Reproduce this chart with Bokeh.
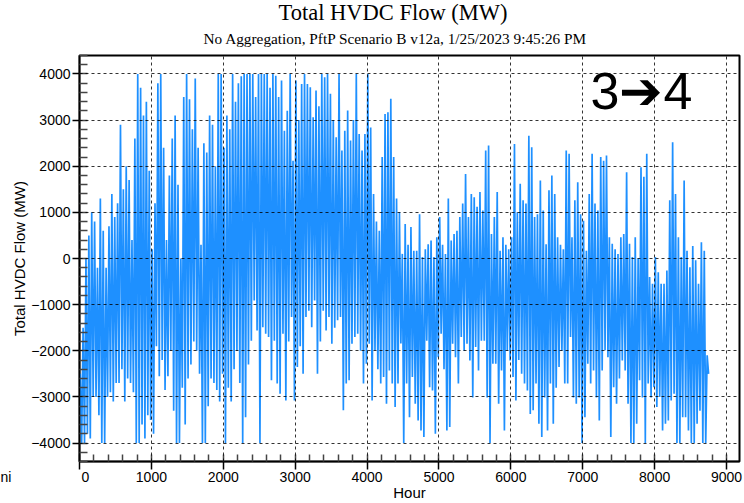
from bokeh.plotting import figure
from bokeh.models import Range1d, SingleIntervalTicker, Label, Title
from bokeh.embed import file_html
from bokeh.resources import INLINE

TITLE = "Total HVDC Flow (MW)"
SUBTITLE = "No Aggregation, PftP Scenario B v12a, 1/25/2023 9:45:26 PM"
X_LABEL = "Hour"
Y_LABEL = "Total HVDC Flow (MW)"
CORNER_TAG = "3\u27944"
STRAY_TEXT = "ni"

BIN_HOURS = 40
bin_start_hour = list(range(0, 8760, BIN_HOURS))

hi_mw = [
    -2500, -1500, 0, 500, 1000, 800, -200, 1300, 600, -200,
    700, 1400, 900, 1200, 2900, 1500, 2000, 1700, 400, 2600,
    4000, 3700, 3100, 3400, 1900, 200, 1200, 3800, 4000, 2400,
    400, 1800, 2600, 3100, 1600, 0, 3500, 4000, 3450, 2800,
    3900, 2400, 300, 2500, 2300, 3100, 2900, 2000, 4000, 4000,
    2400, 3100, 2800, 4000, 3400, 3800, 3950, 4000, 4000, 4000,
    4000, 3500, 4000, 4000, 4000, 4000, 3700, 4000, 3960, 3500,
    3860, 2770, 3200, 4000, 2120, 3860, 3000, 3780, 4000, 3780,
    3710, 3060, 3640, 3300, 4000, 3930, 4000, 3570, 3000, 2630,
    4000, 2340, 2770, 3210, 2560, 3000, 4000, 2700, 2340, 2700,
    4000, 2840, 1400, 800, 600, 2200, 3130, 3170, 3460, 2200,
    1300, 1000, 100, 750, 300, 680, 170, 170, 960, 30,
    200, 310, 390, 30, 460, 900, 300, 100, 1300, 390,
    530, 600, 900, 1190, 1830, 900, 1400, 1330, 1120, 1440,
    1040, 2340, 2450, 530, 900, 1440, 170, 460, 300, 200,
    460, 2480, 1000, 1620, 1260, 1190, 2660, 2410, 900, 960,
    1690, 1040, 310, 1480, 1800, 1400, 460, 300, 200, 2340,
    2270, 460, 1260, 1650, 960, 820, 170, 1400, 2270, 1190,
    1040, 2200, 2120, 2230, 460, 320, 200, 100, 460, 530,
    1870, 320, 30, 460, 0, 1980, 1770, 2270, -400, -550,
    30, -300, -550, -550, -260, 1260, 2520, 1400, 460, 30,
    1690, 170, -190, 270, -40, -550, 350, 170, -2100,
]

lo_mw = [
    -4000, -4000, -3800, -3900, -3000, -3000, -3400, -4000, -4000, -3000,
    -2900, -3100, -2700, -2700, -2400, -3100, -2600, -2700, -2900, -4000,
    -4000, -3600, -3900, -3400, -3500, -3800, -1900, -2550, -2200, -2850,
    -2550, -2000, -3300, -4000, -4000, -2800, -3600, -2600, -2300, -1800,
    -2000, -2500, -4000, -4000, -3200, -2600, -2700, -2850, -3100, -2500,
    -4000, -2800, -3100, -2400, -2000, -2700, -4000, -3440, -2300, -1780,
    -910, -1560, -4000, -1490, -1630, -1700, -2640, -1780, -2710, -2930,
    -1630, -3080, -1800, -1270, -3080, -2350, -1900, -2500, -1270, -1130,
    -1490, -910, -2500, -1800, -1130, -1560, -1270, -1850, -1500, -1340,
    -1270, -3290, -2710, -2640, -1850, -1700, -1630, -2000, -2710, -2280,
    -1850, -3080, -1990, -2400, -2710, -2570, -3150, -2430, -2710, -3220,
    -2710, -1840, -4000, -2710, -3440, -2570, -3150, -3510, -3730, -3870,
    -1780, -2790, -2860, -3800, -2140, -1630, -2400, -3730, -3650, -1850,
    -2140, -2710, -1700, -2000, -1850, -2210, -3010, -1920, -2430, -1780,
    -1780, -3010, -4000, -2280, -2280, -3150, -2430, -3730, -2000, -2210,
    -2570, -3080, -2200, -2500, -2710, -2860, -3370, -3290, -2710, -3580,
    -3870, -3010, -3730, -2710, -3580, -2800, -2350, -2000, -2710, -2710,
    -1700, -3010, -3150, -3010, -4000, -3440, -2280, -2710, -2430, -3010,
    -3510, -2430, -1990, -2140, -3870, -2790, -3150, -2600, -2210, -2430,
    -3150, -4000, -4000, -3580, -2640, -3010, -4000, -2710, -3010, -2790,
    -3220, -3000, -3730, -3580, -3510, -3080, -2930, -4000, -4000, -3440,
    -3440, -3730, -4000, -4000, -3580, -3300, -4000, -4000, -2500,
]

x_ticks_major = 1000
y_ticks_major = 1000

xs, ys = [], []
for h, a, b in zip(bin_start_hour, hi_mw, lo_mw):
    xs += [h + 10, h + 30]
    ys += [a, b]

p = figure(width=744, height=503, x_range=Range1d(0, 9180), y_range=Range1d(-4400, 4400),
           output_backend="svg", toolbar_location=None,
           min_border_left=79, min_border_right=5, min_border_top=55, min_border_bottom=42,
           background_fill_color="white", border_fill_color="white")

p.line(xs, ys, line_color="#1E90FF", line_width=1.7)

# titles (main on top, subtitle just above the frame)
p.title.text = TITLE
p.title.align = "left"
p.title.offset = 199
p.title.text_font = "Liberation Serif"
p.title.text_font_size = "22.5px"
p.title.text_font_style = "normal"
p.title.text_color = "black"
p.title.standoff = -13
p.add_layout(Title(text=SUBTITLE, align="left", offset=124, text_font="Liberation Serif",
                   text_font_size="15.3px", text_font_style="normal", text_color="black",
                   standoff=18), "above")

# frame
p.outline_line_color = "black"
p.outline_line_width = 2
p.outline_line_alpha = 1

# axes and grid
p.xaxis.ticker = SingleIntervalTicker(interval=x_ticks_major, num_minor_ticks=5)
p.yaxis.ticker = SingleIntervalTicker(interval=y_ticks_major, num_minor_ticks=5)
p.xgrid.ticker = SingleIntervalTicker(interval=x_ticks_major)
p.ygrid.ticker = SingleIntervalTicker(interval=y_ticks_major)
for g in (p.xgrid[0], p.ygrid[0]):
    g.grid_line_color = "black"
    g.grid_line_dash = "3 3"
    g.grid_line_width = 1
    g.grid_line_alpha = 0.8
    g.level = "annotation"

p.xaxis.axis_label = X_LABEL
p.yaxis.axis_label = Y_LABEL
for ax in (p.xaxis[0], p.yaxis[0]):
    ax.axis_line_color = "black"
    ax.axis_line_width = 1.5
    ax.major_tick_line_color = "black"
    ax.major_tick_line_width = 1.5
    ax.minor_tick_line_color = "#444444"
    ax.minor_tick_line_width = 1.5
    ax.major_tick_in = 0
    ax.minor_tick_out = 0
    ax.major_label_text_font = "Liberation Sans"
    ax.major_label_text_font_size = "14px"
    ax.major_label_text_color = "black"
    ax.axis_label_text_font = "Liberation Sans"
    ax.axis_label_text_font_size = "15px"
    ax.axis_label_text_font_style = "normal"
    ax.axis_label_text_color = "black"

p.xaxis.major_tick_out = 8
p.xaxis.minor_tick_in = 7
p.xaxis.major_label_standoff = -1
p.xaxis.axis_label_standoff = -4
p.yaxis.major_tick_out = 7
p.yaxis.minor_tick_in = 8
p.yaxis.major_label_standoff = 2
p.yaxis.axis_label_standoff = 0

# the stray, clipped text at the lower left sits on the row of the x tick labels
NBSP = "\u00a0"
p.xaxis.major_label_overrides = {0: STRAY_TEXT + NBSP * 18 + "0" + NBSP * 21}

# corner tag
p.add_layout(Label(x=7107, y=3631, text=CORNER_TAG, text_align="left", text_baseline="middle",
                   text_font="Liberation Sans", text_font_size="52px", text_color="black"))

open("out.html", "w").write(file_html(p, INLINE))
